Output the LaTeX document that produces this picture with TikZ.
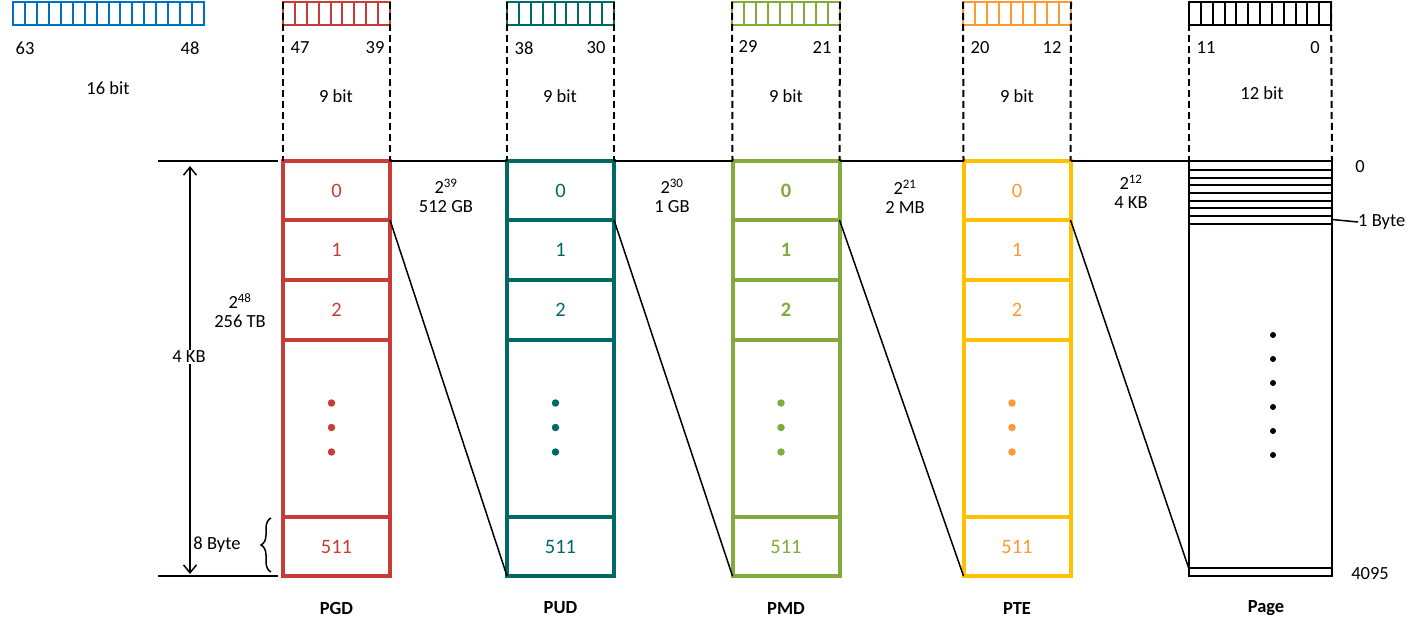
\documentclass[tikz,border=0pt]{standalone}
\usepackage{fontspec}
\setmainfont{Carlito}
\usetikzlibrary{arrows.meta,decorations.pathreplacing}
\definecolor{cblue}{RGB}{0,112,192}
\definecolor{cred}{RGB}{200,60,56}
\definecolor{cteal}{RGB}{0,105,100}
\definecolor{cgreen}{RGB}{130,170,60}
\definecolor{cgold}{RGB}{255,192,0}
\definecolor{corange}{RGB}{255,153,51}
\newcommand\mysz{\fontsize{18.5}{22}\selectfont}
\newcommand\mytsz{\fontsize{20.5}{24}\selectfont}
\begin{document}
\begin{tikzpicture}[x=1pt,y=-1pt,font=\mysz,
  thinline/.style={line width=2pt},
  dashline/.style={line width=2pt,dash pattern=on 7pt off 4pt},
  reg/.style={draw=#1,line width=2pt,inner sep=0pt,outer sep=0pt,minimum height=23pt},
  tcell/.style={draw=#1,line width=4pt,inner sep=0pt,outer sep=0pt,minimum width=107pt},
  dotnode/.style={circle,fill=#1,inner sep=0pt,minimum size=7.5pt},
  lbl/.style={inner sep=1pt,align=center},
  tname/.style={font=\mysz\bfseries}]
\useasboundingbox (0,0) rectangle (1425,631);

% ---------- registers ----------
\node[reg=cblue,minimum width=191pt] (rblue) at (108.5,13.5) {};
\foreach \i in {1,...,15} \draw[cblue,line width=2pt] (13+\i*191/16,2) -- (13+\i*191/16,25);
\node[reg=cred,minimum width=107pt] (rpgd) at (336.5,13.5) {};
\foreach \i in {1,...,8} \draw[cred,line width=2pt] (283+\i*107/9,2) -- (283+\i*107/9,25);
\node[reg=cteal,minimum width=107pt] (rpud) at (560.5,13.5) {};
\foreach \i in {1,...,8} \draw[cteal,line width=2pt] (507+\i*107/9,2) -- (507+\i*107/9,25);
\node[reg=cgreen,minimum width=108pt] (rpmd) at (786,13.5) {};
\foreach \i in {1,...,8} \draw[cgreen,line width=2pt] (732+\i*108/9,2) -- (732+\i*108/9,25);
\node[reg=corange,minimum width=108pt] (rpte) at (1017,13.5) {};
\foreach \i in {1,...,8} \draw[corange,line width=2pt] (963+\i*108/9,2) -- (963+\i*108/9,25);
\node[reg=black,minimum width=142pt] (rpage) at (1260,13.5) {};
\foreach \i in {1,...,11} \draw[black,line width=2pt] (1189+\i*142/12,2) -- (1189+\i*142/12,25);

% register labels
\node[lbl] (b63) at (25,48) {63};
\node[lbl] (b48) at (190,48) {48};
\node[lbl] (w16) at (108,88) {16 bit};
\node[lbl] (b47) at (300,48) {47};
\node[lbl] (b39) at (375,48) {39};
\node[lbl] (w9a) at (336,96) {9 bit};
\node[lbl] (b38) at (524,48) {38};
\node[lbl] (b30) at (596,48) {30};
\node[lbl] (w9b) at (560,96) {9 bit};
\node[lbl] (b29) at (748,47) {29};
\node[lbl] (b21) at (822,48) {21};
\node[lbl] (w9c) at (786,96) {9 bit};
\node[lbl] (b20) at (980,48) {20};
\node[lbl] (b12) at (1052,48) {12};
\node[lbl] (w9d) at (1017,96) {9 bit};
\node[lbl] (b11) at (1206,48) {11};
\node[lbl] (b0) at (1315,48) {0};
\node[lbl] (w12) at (1262,93) {12 bit};

% ---------- tables ----------
\foreach \n/\cx/\bc/\tc/\ff in {pgd/336.5/cred/cred/\mdseries, pud/560.5/cteal/cteal/\mdseries, pmd/786/cgreen/cgreen/\bfseries, pte/1017/cgold/corange/\mdseries}{
  \node[tcell=\bc,text=\tc,font=\mytsz\ff,minimum height=59pt] (\n0) at (\cx,190.5) {0};
  \node[tcell=\bc,text=\tc,font=\mytsz\ff,minimum height=60pt] (\n1) at (\cx,250) {1};
  \node[tcell=\bc,text=\tc,font=\mytsz\ff,minimum height=60pt] (\n2) at (\cx,310) {2};
  \node[tcell=\bc,minimum height=177pt] (\n d) at (\cx,428.5) {};
  \node[tcell=\bc,text=\tc,font=\mytsz\mdseries,minimum height=59pt] (\n511) at (\cx,546.5) {511};
  \node[dotnode=\tc] (\n da) at (\cx-5,403) {};
  \node[dotnode=\tc] (\n db) at (\cx-5,427.5) {};
  \node[dotnode=\tc] (\n dc) at (\cx-5,452) {};
}
\node[tname] (tpgd) at (336.5,608) {PGD};
\node[tname] (tpud) at (560.5,608) {PUD};
\node[tname] (tpmd) at (786,608) {PMD};
\node[tname] (tpte) at (1017,608) {PTE};

% ---------- page ----------
\node[draw,line width=2pt,inner sep=0pt,outer sep=0pt,minimum width=143pt,minimum height=415pt] (page) at (1260.5,368.5) {};
\foreach \yy in {170,178,185.5,193,201,208.5,216,224,568} \draw[line width=2pt] (1189,\yy) -- (1332,\yy);
\coordinate (plast) at (1189,569);
\foreach \yy in {335,359,383,407,431,455} \fill (1273,\yy) circle (3pt);
\node[tname] (tpage) at (1266,608) {Page};
\node[lbl] (p0) at (1360,167) {0};
\node[lbl] (p4095) at (1370,574) {4095};
\node[lbl,anchor=west,inner sep=0pt] (p1b) at (1358,222) {1 Byte};
\draw[line width=1.5pt] (1332,219.5) -- (p1b.west);

% ---------- dashed guides ----------
\draw[dashline] (rpgd.north west) -- (pgd0.north west);
\draw[dashline] (rpgd.north east) -- (pgd0.north east);
\draw[dashline] (rpud.north west) -- (pud0.north west);
\draw[dashline] (rpud.north east) -- (pud0.north east);
\draw[dashline] (rpmd.north west) -- (pmd0.north west);
\draw[dashline] (rpmd.north east) -- (pmd0.north east);
\draw[dashline] (rpte.north west) -- (pte0.north west);
\draw[dashline] (rpte.north east) -- (pte0.north east);
\draw[dashline] (rpage.north west) -- (page.north west);
\draw[dashline] (rpage.north east) -- (page.north east);

% ---------- horizontal lines ----------
\coordinate (ltop) at (158,161);
\coordinate (ltopr) at (278,161);
\coordinate (lbot) at (158,576);
\coordinate (lbotr) at (278,576);
\draw[thinline] (ltop) -- (ltopr);
\draw[thinline] (lbot) -- (lbotr);
\draw[thinline] (pgd0.north east) -- (pud0.north west);
\draw[thinline] (pud0.north east) -- (pmd0.north west);
\draw[thinline] (pmd0.north east) -- (pte0.north west);
\draw[thinline] (pte0.north east) -- (page.north west);

% ---------- slanted connectors ----------
\draw[line width=1.5pt] (pgd1.north east) -- (pud511.south west);
\draw[line width=1.5pt] (pud1.north east) -- (pmd511.south west);
\draw[line width=1.5pt] (pmd1.north east) -- (pte511.south west);
\draw[line width=1.5pt] (pte1.north east) -- (plast);

% ---------- size labels ----------
\node[lbl] (s39) at (446,196) {2\textsuperscript{39}\\[-3pt]512 GB};
\node[lbl] (s30) at (672,196) {2\textsuperscript{30}\\[-3pt]1 GB};
\node[lbl] (s21) at (905,197) {2\textsuperscript{21}\\[-3pt]2 MB};
\node[lbl] (s12) at (1131,192) {2\textsuperscript{12}\\[-3pt]4 KB};
\node[lbl] (s48) at (240,311) {2\textsuperscript{48}\\[-3pt]256 TB};

% ---------- left arrow and brace ----------
\coordinate (atop) at (190,166);
\coordinate (abot) at (190,574);
\draw[line width=1.5pt,{Straight Barb[length=8pt,width=13pt]}-{Straight Barb[length=8pt,width=13pt]}] (abot) -- (atop);
\node[lbl,fill=white] (k4) at (189,357) {4 KB};
\coordinate (brb) at (271,572);
\coordinate (brt) at (271,518);
\draw[line width=1.5pt,decorate,decoration={brace,amplitude=10pt,aspect=0.5}] (brb) -- (brt);
\node[lbl] (b8) at (217,545) {8 Byte};
\end{tikzpicture}
\end{document}
